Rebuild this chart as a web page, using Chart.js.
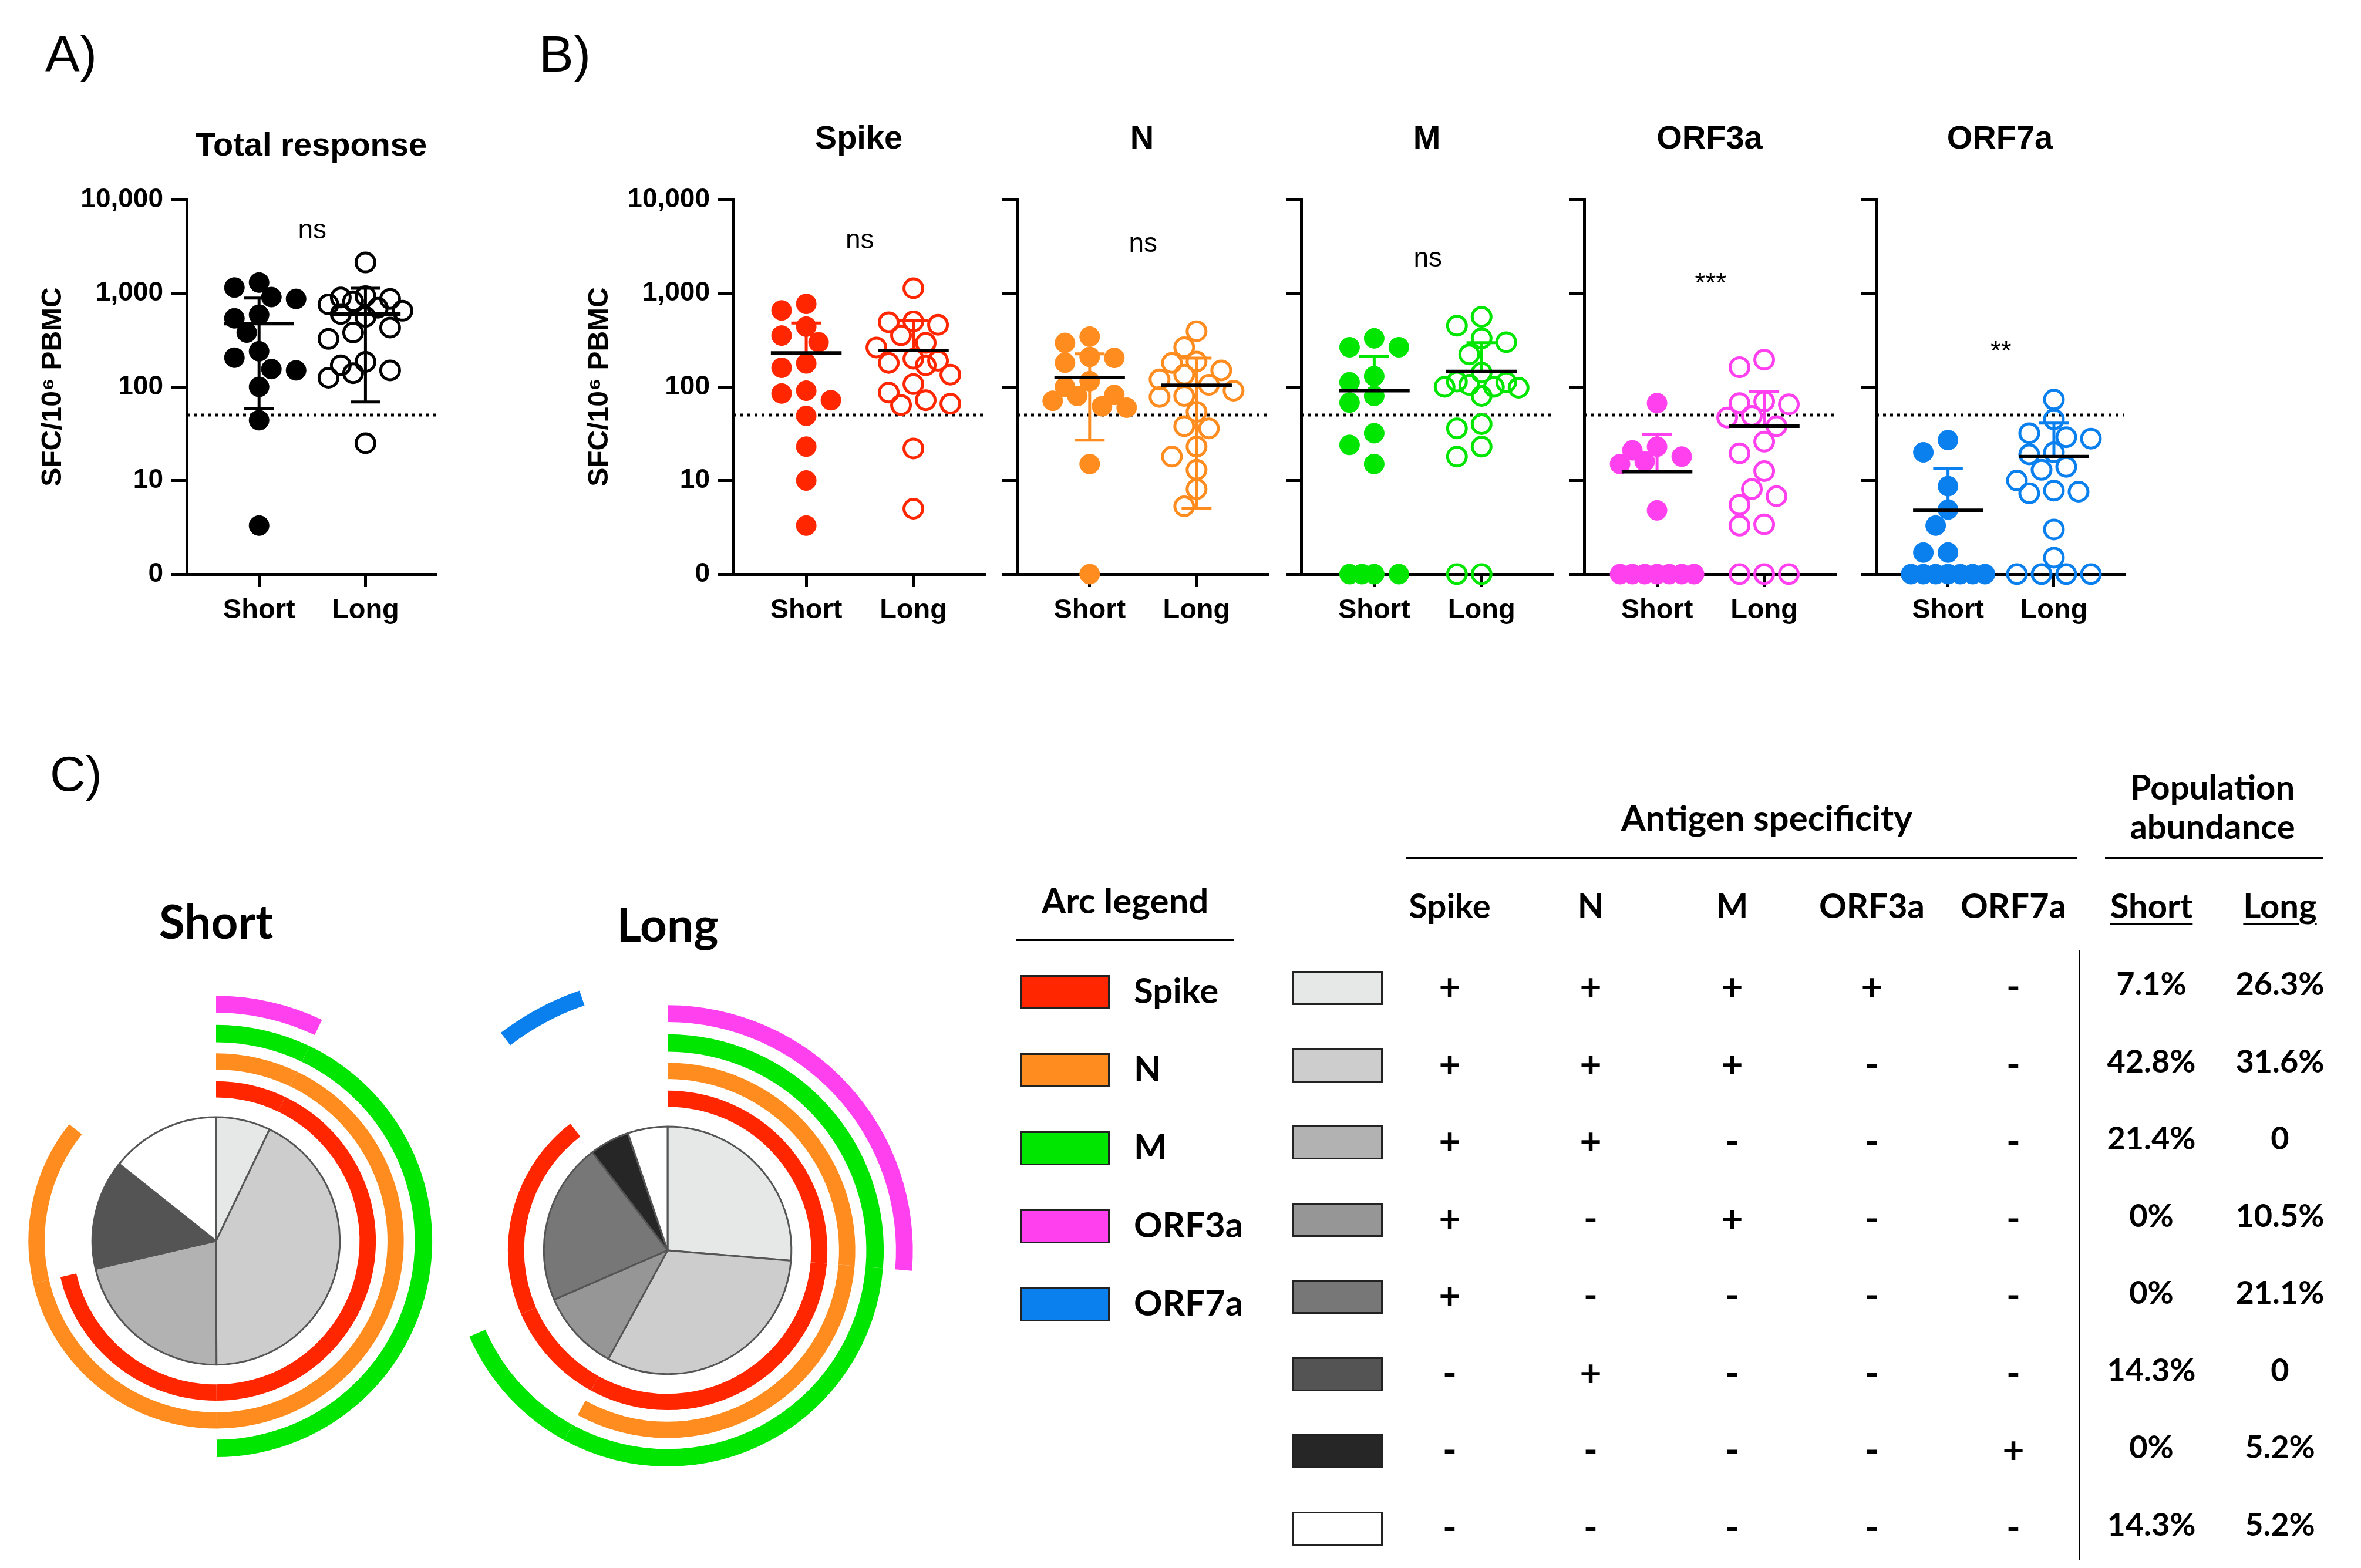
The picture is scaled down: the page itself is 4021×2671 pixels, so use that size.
<!DOCTYPE html>
<html>
<head>
<meta charset="utf-8">
<script src="https://cdn.jsdelivr.net/npm/chart.js@4.4.1/dist/chart.umd.min.js"></script>
<style>
  html, body { margin: 0; padding: 0; background: #fff; }
  body { position: relative; width: 4021px; height: 2671px; overflow: hidden; font-family: "Liberation Sans", Arial, sans-serif; }
  canvas { position: absolute; }
  .t { position: absolute; white-space: nowrap; color: #000; line-height: 1; }
  .c { font-family: Lato, "Open Sans", sans-serif; font-weight: 700; }
  .ln { position: absolute; background: #000; }
</style>
</head>
<body>
<script>
// ---- data ----
const groups = ['Short', 'Long'];
const yTicks = [1, 10, 100, 1000, 10000];
const yTickLabels = ['0', '10', '100', '1,000', '10,000'];
const threshold = 50;

// SFC / 10^6 PBMC per donor (0 = no response, drawn on the axis)
const totalShort = [1300, 1150, 910, 870, 590, 540, 380, 240, 205, 155, 150, 100, 44, 3.3];
const totalLong = [2130, 930, 900, 870, 820, 760, 700, 650, 600, 560, 430, 380, 325, 185, 170, 150, 140, 125, 25];
const spikeShort = [770, 655, 440, 353, 300, 178, 160, 91, 85, 72, 49, 23, 10, 3.3];
const spikeLong = [1130, 500, 490, 460, 355, 295, 263, 200, 190, 180, 170, 135, 107, 87, 72, 66, 64, 22, 5];
const nShort = [344, 295, 209, 204, 181, 115, 100, 82, 80, 71, 62, 60, 15, 0];
const nLong = [393, 265, 186, 180, 150, 135, 120, 105, 91, 80, 78, 54, 38, 36, 23, 18, 13, 8.1, 5.3];
const mShort = [330, 265, 265, 130, 112, 80, 68, 32, 24, 15, 0, 0, 0, 0];
const mLong = [560, 450, 330, 300, 222, 142, 114, 112, 105, 100, 100, 98, 80, 40, 36, 23, 18, 0, 0];
const orf3aShort = [67, 23, 21, 18, 16, 15, 4.8, 0, 0, 0, 0, 0, 0, 0];
const orf3aLong = [195, 162, 70, 67, 65, 49, 47, 38, 26, 19.5, 12.6, 8.1, 6.8, 5.5, 3.4, 3.3, 0, 0, 0];
const orf7aShort = [27, 20, 8.7, 4.9, 3.3, 1.7, 1.7, 0, 0, 0, 0, 0, 0, 0];
const orf7aLong = [73, 45, 32, 29, 28, 20, 19, 14, 13, 10, 7.8, 7.6, 7.3, 3, 1.5, 0, 0, 0, 0];

// group mean and error bar (short, long)
const totalMean = [474, 600], totalErr = [415, 531];
const spikeMean = [230, 245], spikeErr = [250, 270];
const nMean = [126, 104], nErr = [99, 99];
const mMean = [91, 146], mErr = [119, 150];
const orf3aMean = [12.4, 38], orf3aErr = [18.5, 51];
const orf7aMean = [4.8, 18], orf7aErr = [8.7, 23];

const sigLabels = ['ns', 'ns', 'ns', 'ns', '***', '**'];

// panel C
const antigens = ['Spike', 'N', 'M', 'ORF3a', 'ORF7a'];
const specificity = [
  [1, 1, 1, 1, 0],
  [1, 1, 1, 0, 0],
  [1, 1, 0, 0, 0],
  [1, 0, 1, 0, 0],
  [1, 0, 0, 0, 0],
  [0, 1, 0, 0, 0],
  [0, 0, 0, 0, 1],
  [0, 0, 0, 0, 0]
];
const abundanceShort = [7.1, 42.8, 21.4, 0, 0, 14.3, 0, 14.3];
const abundanceLong = [26.3, 31.6, 0, 10.5, 21.1, 0, 5.2, 5.2];
const abundanceShortText = ['7.1%', '42.8%', '21.4%', '0%', '0%', '14.3%', '0%', '14.3%'];
const abundanceLongText = ['26.3%', '31.6%', '0', '10.5%', '21.1%', '0', '5.2%', '5.2%'];

// ---- styles ----
const antigenColors = ['#ff2600', '#ff8c1f', '#00e600', '#ff40ee', '#0a80ee'];
const subsetColors = ['#e6e7e7', '#cdcdcd', '#b2b2b2', '#969696', '#777777', '#545454', '#262626', '#ffffff'];

Chart.defaults.font.family = '"Liberation Sans", Arial, sans-serif';
Chart.defaults.color = '#000';

const xMin = 0.32, xMax = 2.66;
const canvasTop = 150, canvasH = 918, plotTop = 340, plotBottom = 978;
const SWARM_STEP = 21, SWARM_GAP = 32;

function makeCanvas(left, top, w, h) {
  const c = document.createElement('canvas');
  c.width = w; c.height = h;
  c.style.left = left + 'px'; c.style.top = top + 'px';
  c.style.width = w + 'px'; c.style.height = h + 'px';
  document.body.appendChild(c);
  return c;
}

// simple beeswarm: spread points sideways so they don't pile up
function swarm(values, center, pxX, pxDec) {
  const idx = values.map((v, i) => i).sort((a, b) => values[b] - values[a]);
  const placed = [];
  const out = [];
  for (const i of idx) {
    const ly = Math.log10(Math.max(values[i], 1)) * pxDec;
    let best = 0, bestD = -1;
    for (const k of [0, -1, 1, -2, 2, -3, 3]) {
      const off = k * SWARM_STEP;
      let dmin = Infinity;
      for (const q of placed) dmin = Math.min(dmin, Math.hypot(off - q.off, ly - q.ly));
      if (dmin >= SWARM_GAP) { best = off; break; }
      if (dmin > bestD) { bestD = dmin; best = off; }
    }
    placed.push({ off: best, ly });
    out.push({ x: center + best / pxX, y: Math.max(values[i], 1) });
  }
  return out;
}

const sigPlugin = {
  id: 'sig',
  afterDatasetsDraw(chart, args, opts) {
    const { ctx, scales: { x, y } } = chart;
    ctx.save();
    ctx.font = '46px "Liberation Sans", Arial';
    ctx.fillStyle = '#000';
    ctx.textAlign = 'center';
    ctx.textBaseline = 'middle';
    ctx.fillText(opts.text, x.getPixelForValue(1.5), y.getPixelForValue(opts.y));
    ctx.restore();
  }
};

const panels = [
  { title: 'Total response', s: totalShort, l: totalLong, mean: totalMean, err: totalErr, color: '#000', bar: '#000', axisX: 318, plotW: 424, yW: 278, labels: true, titleY: 250, sigY: 4600 },
  { title: 'Spike', s: spikeShort, l: spikeLong, mean: spikeMean, err: spikeErr, color: antigenColors[0], bar: antigenColors[0], axisX: 1249, plotW: 427, yW: 278, labels: true, titleY: 238, sigY: 3650 },
  { title: 'N', s: nShort, l: nLong, mean: nMean, err: nErr, color: antigenColors[1], bar: antigenColors[1], axisX: 1732, plotW: 426, yW: 40, labels: false, titleY: 238, sigY: 3300 },
  { title: 'M', s: mShort, l: mLong, mean: mMean, err: mErr, color: antigenColors[2], bar: antigenColors[2], axisX: 2216, plotW: 428, yW: 40, labels: false, titleY: 238, sigY: 2300 },
  { title: 'ORF3a', s: orf3aShort, l: orf3aLong, mean: orf3aMean, err: orf3aErr, color: antigenColors[3], bar: antigenColors[3], axisX: 2698, plotW: 427, yW: 40, labels: false, titleY: 238, sigY: 1250 },
  { title: 'ORF7a', s: orf7aShort, l: orf7aLong, mean: orf7aMean, err: orf7aErr, color: antigenColors[4], bar: antigenColors[4], axisX: 3195, plotW: 422, yW: 40, labels: false, titleY: 238, sigY: 235 }
];

panels.forEach((p, pi) => {
  const cv = makeCanvas(p.axisX - p.yW, canvasTop, 2 * p.yW + p.plotW, canvasH);
  const pxX = p.plotW / (xMax - xMin);
  const pxDec = (plotBottom - plotTop) / 4;
  const tTop = p.titleY - canvasTop - 33.6;
  const tBottom = plotTop - canvasTop - 67.2 - tTop;

  const meanData = [], errData = [];
  [1, 2].forEach((c, g) => {
    const m = p.mean[g], e = p.err[g];
    meanData.push({ x: c - 0.33, y: m }, { x: c + 0.33, y: m }, { x: c, y: null });
    const ends = [m + e];
    if (m - e >= 1) ends.push(m - e);
    ends.forEach(v => {
      errData.push({ x: c, y: m }, { x: c, y: v }, { x: c, y: null });
      errData.push({ x: c - 0.14, y: v }, { x: c + 0.14, y: v }, { x: c, y: null });
    });
  });

  new Chart(cv, {
    type: 'scatter',
    data: {
      datasets: [
        { data: [{ x: xMin, y: threshold }, { x: xMax, y: threshold }], showLine: true, borderColor: '#000', borderWidth: 5, borderDash: [5, 7], pointRadius: 0, order: 10 },
        { data: swarm(p.s, 1, pxX, pxDec), pointRadius: 17, pointBackgroundColor: p.color, pointBorderColor: p.color, pointBorderWidth: 1, order: 6, clip: false },
        { data: swarm(p.l, 2, pxX, pxDec), pointRadius: 16, pointBackgroundColor: 'rgba(0,0,0,0)', pointBorderColor: p.color, pointBorderWidth: 5, order: 5, clip: false },
        { data: errData, showLine: true, borderColor: p.bar, borderWidth: 5, pointRadius: 0, order: 2, spanGaps: false },
        { data: meanData, showLine: true, borderColor: '#000', borderWidth: 6, pointRadius: 0, order: 1, spanGaps: false }
      ]
    },
    options: {
      responsive: false,
      animation: false,
      devicePixelRatio: 1,
      events: [],
      layout: { padding: { right: p.yW } },
      plugins: {
        legend: { display: false },
        tooltip: { enabled: false },
        title: { display: true, fullSize: false, text: p.title, font: { size: 56, weight: 'bold' }, color: '#000', padding: { top: tTop, bottom: tBottom } },
        sig: { text: sigLabels[pi], y: p.sigY }
      },
      scales: {
        x: {
          type: 'linear', min: xMin, max: xMax,
          afterBuildTicks: s => { s.ticks = [1, 2].map(v => ({ value: v })); },
          afterFit: s => { s.height = 90; },
          ticks: { callback: (v, i) => groups[i], font: { size: 47, weight: 'bold' }, color: '#000', padding: 12, maxRotation: 0, autoSkip: false },
          grid: { drawOnChartArea: false, tickLength: 22, lineWidth: 5, color: '#000' },
          border: { width: 5, color: '#000' }
        },
        y: {
          type: 'logarithmic', min: 1, max: 10000,
          afterBuildTicks: s => { s.ticks = yTicks.map(v => ({ value: v })); },
          afterFit: s => { s.width = p.yW; },
          ticks: { callback: (v, i) => p.labels ? yTickLabels[i] : '', font: { size: 46, weight: 'bold' }, color: '#000', padding: 14, autoSkip: false },
          grid: { drawOnChartArea: false, tickLength: 26, lineWidth: 5, color: '#000' },
          border: { width: 5, color: '#000' },
          title: { display: p.labels, text: 'SFC/10⁶ PBMC', font: { size: 48, weight: 'bold' }, color: '#000', padding: { top: 22, bottom: 0 } }
        }
      }
    },
    plugins: [sigPlugin]
  });
});

// ---- panel C: pies with antigen arcs ----
const ringWeights = [28, 28, 30, 29, 27]; // Spike..ORF7a ring thickness
const gapWeights = [34, 20, 19, 21, 23];   // gap inside each ring
const pieWeight = 213;

function arcChart(title, abundance, cx, cy, titleY) {
  const R = 472;
  const top = titleY - 43.2;
  const pb = (cy - R) - top - 86.4;
  const cv = makeCanvas(cx - R, top, 2 * R, (cy + R) - top);
  const datasets = [];
  for (let a = antigens.length - 1; a >= 0; a--) {
    datasets.push({ data: abundance, backgroundColor: specificity.map(r => r[a] ? antigenColors[a] : 'rgba(0,0,0,0)'), borderWidth: 0, weight: ringWeights[a] });
    datasets.push({ data: [1], backgroundColor: 'rgba(0,0,0,0)', borderWidth: 0, weight: gapWeights[a] });
  }
  datasets.push({ data: abundance, backgroundColor: subsetColors, borderColor: '#555', borderWidth: 3, weight: pieWeight });
  new Chart(cv, {
    type: 'doughnut',
    data: { labels: subsetColors.map((c, i) => 'subset ' + (i + 1)), datasets },
    options: {
      responsive: false, animation: false, devicePixelRatio: 1, events: [],
      cutout: 0,
      plugins: {
        legend: { display: false },
        tooltip: { enabled: false },
        title: { display: true, text: title, font: { family: 'Lato', size: 80, weight: 'bold' }, color: '#000', padding: { top: 0, bottom: pb } }
      }
    }
  });
}
arcChart('Short', abundanceShort, 368, 2109, 1568);
arcChart('Long', abundanceLong, 1137, 2125, 1573);

// ---- text, legend and table ----
function addText(txt, x, y, size, cls, align) {
  const d = document.createElement('div');
  d.className = 't ' + (cls || '');
  d.textContent = txt;
  d.style.fontSize = size + 'px';
  d.style.left = x + 'px';
  d.style.top = y + 'px';
  d.style.transform = align === 'left' ? 'translate(0,-50%)' : 'translate(-50%,-50%)';
  document.body.appendChild(d);
  return d;
}
function addLine(x, y, w, h) {
  const d = document.createElement('div');
  d.className = 'ln';
  Object.assign(d.style, { left: x + 'px', top: y + 'px', width: w + 'px', height: h + 'px' });
  document.body.appendChild(d);
}
function addBox(x, y, w, h, color) {
  const d = document.createElement('div');
  Object.assign(d.style, { position: 'absolute', left: x + 'px', top: (y - h / 2) + 'px', width: w + 'px', height: h + 'px', background: color, border: '3px solid #222', boxSizing: 'border-box' });
  document.body.appendChild(d);
}

addText('A)', 77, 92, 88, '', 'left');
addText('B)', 918, 92, 88, '', 'left');
addText('C)', 85, 1318, 84, '', 'left');

// arc legend
addText('Arc legend', 1916, 1533, 60, 'c');
addLine(1730, 1599, 372, 4);
antigens.forEach((a, i) => {
  const y = 1690 + i * 133;
  addBox(1737, y, 153, 58, antigenColors[i]);
  addText(a, 1931, y - 4, 60, 'c', 'left');
});

// specificity table
const colX = [2469, 2709, 2950, 3188, 3429];
const popX = [3664, 3883];
addText('Antigen specificity', 3009, 1392, 60, 'c');
addLine(2395, 1459, 1143, 4);
addText('Population', 3768, 1340, 58, 'c');
addText('abundance', 3768, 1407, 58, 'c');
addLine(3585, 1459, 372, 4);
antigens.forEach((a, i) => addText(a, colX[i], 1542, 58, 'c'));
groups.forEach((g, i) => {
  const d = addText(g, popX[i], 1542, 58, 'c');
  d.style.textDecoration = 'underline';
  d.style.textDecorationThickness = '4px';
  d.style.textUnderlineOffset = '8px';
});
addLine(3540, 1618, 3, 1040);
specificity.forEach((row, r) => {
  const y = 1683 + r * 131.5;
  addBox(2201, y, 154, 58, subsetColors[r]);
  row.forEach((v, a) => addText(v ? '+' : '-', colX[a], y - 4, 64, 'c'));
  addText(abundanceShortText[r], popX[0], y - 8, 54, 'c');
  addText(abundanceLongText[r], popX[1], y - 8, 54, 'c');
});
</script>
</body>
</html>
